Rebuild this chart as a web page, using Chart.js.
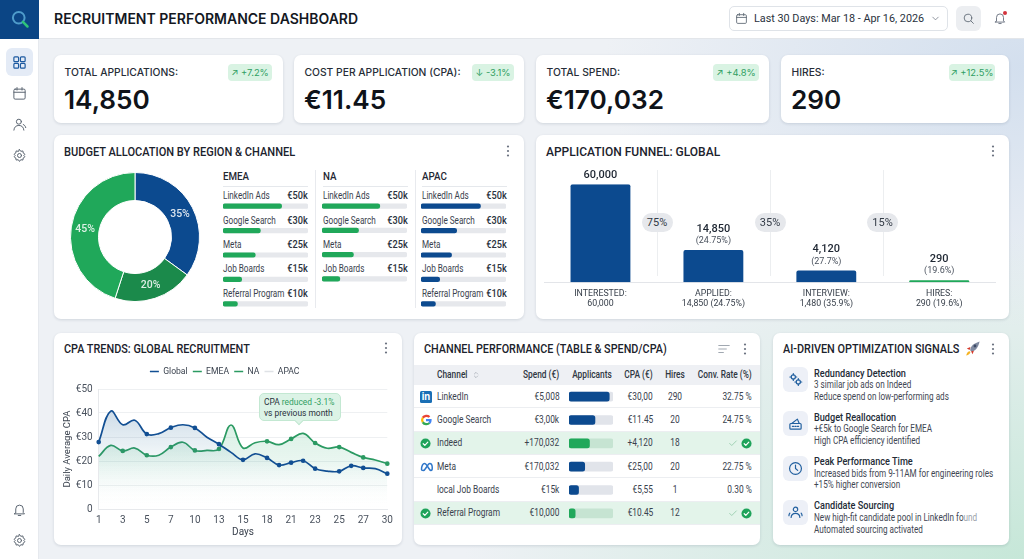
<!DOCTYPE html>
<html>
<head>
<meta charset="utf-8">
<title>Recruitment Performance Dashboard</title>
<script src="https://cdn.jsdelivr.net/npm/chart.js@4"></script>
<style>
* { box-sizing: border-box; }
html, body { margin: 0; width: 1024px; height: 559px; overflow: hidden; }
body {
    position: relative;
    font-family: Inter, "Noto Sans", sans-serif;
    color: #1f2733;
    background:
        radial-gradient(ellipse 560px 330px at 100% 100%, #c6e7d8 0, rgba(198,231,216,0) 100%),
        radial-gradient(ellipse 420px 260px at 100% 12%, #d3dfee 0, rgba(211,223,238,0) 100%),
        #eef1f5;
}
.abs, canvas { position: absolute; }
.t { position: absolute; white-space: nowrap; line-height: 1; transform: translateY(-50%) scaleX(var(--sx, 1)); transform-origin: left center; }
.tr { transform-origin: right center; }
.tc { transform: translate(-50%, -50%) scaleX(var(--sx, 1)); transform-origin: center; }
.card { position: absolute; background: #fff; border-radius: 7px; box-shadow: 0 1px 3px rgba(30,50,80,.14); }
.title { font-family: Roboto, sans-serif; font-size: 12px; font-weight: 500; color: #1b222c; }
.side { left: 0; top: 0; width: 39px; height: 559px; background: #fff; border-right: 1px solid #e6e9ee; }
.head { left: 39px; top: 0; width: 985px; height: 39px; background: #fff; border-bottom: 1px solid #e3e6ea; }
.badge { position: absolute; background: #d9f3e3; color: #2f9e62; border-radius: 4px; font-size: 9.4px; text-align: center; height: 17px; line-height: 17px; white-space: nowrap; }
.pill { position: absolute; width: 31px; height: 19px; border-radius: 10px; background: #e6e8ec; font-family: Roboto, sans-serif; font-size: 11px; line-height: 19px; text-align: center; color: #333b46; }
.row { font-family: Roboto, sans-serif; font-size: 10.2px; color: #3a424e; --sx: .82; }
.small { font-family: Roboto, sans-serif; font-size: 10.2px; color: #3a424e; --sx: .8; }
</style>
</head>
<body>
<div class="abs side"></div>
<div class="abs head"></div>
<div class="abs" style="left:0;top:0;width:39px;height:39px;background:#0b4585"></div>
<div id="ui"></div>
<canvas id="donutChart" width="140" height="140" style="left:65px;top:167px"></canvas>
<canvas id="emeaBars" width="85" height="122" style="left:223px;top:194px"></canvas>
<canvas id="naBars" width="85" height="97" style="left:322px;top:194px"></canvas>
<canvas id="apacBars" width="85" height="122" style="left:421px;top:194px"></canvas>
<canvas id="funnelChart" width="473" height="151" style="left:536px;top:165px"></canvas>
<canvas id="cpaChart" width="348" height="185" style="left:54px;top:360px"></canvas>
<canvas id="applicantBars" width="44" height="140" style="left:569px;top:385px"></canvas>
<div id="overlay"></div>

<script>
// KPI row
const kpiLabels = ['TOTAL APPLICATIONS:', 'COST PER APPLICATION (CPA):', 'TOTAL SPEND:', 'HIRES:'];
const kpiValues = ['14,850', '€11.45', '€170,032', '290'];
const kpiDeltas = ['↗ +7.2%', '↓ -3.1%', '↗ +4.8%', '↗ +12.5%'];

// Budget donut
const budgetLabels = ['NA', 'APAC', 'EMEA'];
const budgetShares = [35, 20, 45];

const regionChannels = ['LinkedIn Ads', 'Google Search', 'Meta', 'Job Boards', 'Referral Program'];
const regionAmounts = ['€50k', '€30k', '€25k', '€15k', '€10k'];
const emeaLengths = [69, 44, 38, 22, 17];
const naLengths = [68, 43, 37, 21];
const apacLengths = [70, 42, 36, 22, 17];

// Funnel: drawn bar heights are not proportional to the printed numbers, so both are kept
const funnelStages = [['INTERESTED:', '60,000'], ['APPLIED:', '14,850 (24.75%)'], ['INTERVIEW:', '1,480 (35.9%)'], ['HIRES:', '290 (19.6%)']];
const funnelHeights = [60000, 19800, 7300, 1300];
const funnelValueLabels = ['60,000', '14,850', '4,120', '290'];
const funnelPctLabels = ['', '(24.75%)', '(27.7%)', '(19.6%)'];
const funnelRates = ['75%', '35%', '15%'];

// CPA trends: x axis labels every second position
const cpaDays = ['1', '2', '3', '4', '5', '6', '7', '8', '10', '12', '13', '14', '15', '17', '18', '20', '21', '22', '23', '24', '25', '26', '27', '28', '30'];
const globalCpa = [27.9, 40.8, 35.1, 37, 31.2, 31.4, 33.9, 35.1, 33.8, 29.9, 27, 23.6, 20.5, 23, 21.3, 18.3, 19.3, 20.1, 16.8, 15.8, 15.7, 18, 17.1, 16.8, 14.7];
const emeaCpa = [21.9, 26.5, 24.2, 25.4, 22.4, 22.4, 25.8, 27.8, 24.4, 24.4, 25, 35, 25.4, 27.6, 28.2, 26.8, 29.2, 31.5, 27.5, 25.3, 25.8, 23.6, 21.5, 20.4, 18.9];
const naCpa = [];
const apacCpa = [];
const cpaTicks = [0, 10, 20, 30, 40, 50];

// Channel table
const channelNames = ['LinkedIn', 'Google Search', 'Indeed', 'Meta', 'local Job Boards', 'Referral Program'];
const channelSpend = ['€5,008', '€3,00k', '+170,032', '€170,032', '€15k', '€10,000'];
const channelApplicants = [91.5, 59, 46.5, 35.7, 21.7, 14];
const channelCpa = ['€30,00', '€11.45', '+4,120', '€25,00', '€5,55', '€10.45'];
const channelHires = ['290', '20', '18', '20', '1', '12'];
const channelConv = ['32.75 %', '24.75 %', '', '22.75 %', '0.30 %', ''];
const highlightedRows = [2, 5];

// AI signals
const signalTitles = ['Redundancy Detection', 'Budget Reallocation', 'Peak Performance Time', 'Candidate Sourcing'];
const signalLine1 = ['3 similar job ads on Indeed', '+€5k to Google Search for EMEA', 'Increased bids from 9-11AM for engineering roles', 'New high-fit candidate pool in LinkedIn fo<span style="color:#9aa1ab">und</span>'];
const signalLine2 = ['Reduce spend on low-performing ads', 'High CPA efficiency identified', '+15% higher conversion', 'Automated sourcing activated'];

const BLUE = '#0c4a8f';
const GREEN = '#20a85a';
const DARK_GREEN = '#1b8a4b';
const LINE_GREEN = '#2b9a62';

Chart.defaults.font.family = 'Roboto, sans-serif';
Chart.defaults.animation = false;
Chart.defaults.responsive = false;

const svg = (x, y, size, body, stroke = '#4f5a68', sw = 1.6) =>
    `<svg class="abs" style="left:${x}px;top:${y}px" width="${size}" height="${size}" viewBox="0 0 24 24" fill="none" stroke="${stroke}" stroke-width="${sw}" stroke-linecap="round" stroke-linejoin="round">${body}</svg>`;

const ICON = {
    grid: '<rect x="3" y="3" width="7.5" height="7.5" rx="1.5"/><rect x="13.5" y="3" width="7.5" height="7.5" rx="1.5"/><rect x="3" y="13.5" width="7.5" height="7.5" rx="1.5"/><rect x="13.5" y="13.5" width="7.5" height="7.5" rx="1.5"/>',
    calendar: '<rect x="3" y="5" width="18" height="16" rx="2"/><path d="M3 10h18M8 2.5v4M16 2.5v4"/>',
    user: '<circle cx="11" cy="7.5" r="4"/><path d="M3 21c.5-5 3.5-7.5 8-7.5s7.5 2.5 8 7.5"/><path d="M18 12c2 .8 3.5 2.5 4 5"/>',
    gear: '<circle cx="12" cy="12" r="3.2"/><path d="M12 2.5l2 2.8 3.4-.6.6 3.4 2.8 2-1.9 1.9 1.9 1.9-2.8 2-.6 3.4-3.4-.6-2 2.8-2-2.8-3.4.6-.6-3.4-2.8-2 1.9-1.9-1.9-1.9 2.8-2 .6-3.4 3.4.6z"/>',
    bell: '<path d="M6 17V11a6 6 0 0 1 12 0v6l2 2H4z"/><path d="M10 21.5h4"/>',
    search: '<circle cx="11" cy="11" r="7"/><path d="M16.5 16.5L21 21"/>',
    chevron: '<path d="M6 9l6 6 6-6"/>',
    clock: '<circle cx="12" cy="12" r="9.5"/><path d="M12 6.5V12l3.5 3"/>',
    people: '<circle cx="12" cy="7" r="3.5"/><path d="M5 20c.3-4.5 3-6.5 7-6.5s6.7 2 7 6.5"/><path d="M3 13c-1 1-1.5 2.5-1.5 4M21 13c1 1 1.5 2.5 1.5 4"/>',
    register: '<rect x="3" y="12" width="18" height="9" rx="1.5"/><path d="M6 12l9-7 3 7M7 16.5h2M11 16.5h2M15 16.5h2"/>',
    sort: '<path d="M3 6h18M3 12h13M3 18h8"/>'
};

const dots = (x, y) => `<svg class="abs" style="left:${x - 2}px;top:${y - 6}px" width="4" height="12" fill="#6b7280"><circle cx="2" cy="1.5" r="1.1"/><circle cx="2" cy="6" r="1.1"/><circle cx="2" cy="10.5" r="1.1"/></svg>`;
const text = (x, y, str, style = '', cls = '') => `<div class="t ${cls}" style="left:${x}px;top:${y}px;${style}">${str}</div>`;
const textRight = (x, y, str, style = '', cls = '') => `<div class="t tr ${cls}" style="right:${1024 - x}px;top:${y}px;${style}">${str}</div>`;
const textCenter = (x, y, str, style = '', cls = '') => `<div class="t tc ${cls}" style="left:${x}px;top:${y}px;${style}">${str}</div>`;
const check = (x, y, size) => svg(x, y, size, '<circle cx="12" cy="12" r="11" fill="#1ea35a" stroke="none"/><path d="M7 12.5l3.5 3.5L17 9" stroke="#fff" stroke-width="2.6"/>');

function buildChrome() {
    let html = '';
    html += svg(10, 9, 20, '<circle cx="10.5" cy="10.5" r="7" stroke="#4f9ccb" stroke-width="2.4"/><path d="M15.5 15.5L21 21" stroke="#2fc37a" stroke-width="3"/>');
    html += '<div class="abs" style="left:6px;top:48px;width:27px;height:28px;background:#e4ebf6;border-radius:6px"></div>';
    html += svg(12, 55, 15, ICON.grid, '#1d5aa0', 1.9);
    html += svg(12, 86, 15, ICON.calendar, '#5d6773');
    html += svg(12, 117, 15, ICON.user, '#5d6773');
    html += svg(12, 148, 15, ICON.gear, '#5d6773');
    html += svg(12, 502, 15, ICON.bell, '#5d6773');
    html += svg(12, 533, 15, ICON.gear, '#5d6773');
    html += text(54, 19, 'RECRUITMENT PERFORMANCE DASHBOARD', 'font-size:14px;font-weight:600;color:#14181f');
    html += '<div class="abs" style="left:729px;top:6px;width:219px;height:25px;background:#fff;border:1px solid #dfe3e8;border-radius:5px"></div>';
    html += svg(735, 12, 13, ICON.calendar, '#5d6773');
    html += text(754, 18.5, 'Last 30 Days: Mar 18 - Apr 16, 2026', 'font-family:Roboto;font-size:11.5px;color:#2a323d;--sx:.94');
    html += svg(930, 13, 11, ICON.chevron, '#6b7280');
    html += '<div class="abs" style="left:956px;top:6px;width:25px;height:25px;background:#eceef1;border-radius:6px"></div>';
    html += svg(962, 12, 13, ICON.search, '#5d6773');
    html += svg(993, 11, 14, ICON.bell, '#6b7280');
    html += '<div class="abs" style="left:1002.5px;top:10.5px;width:4.5px;height:4.5px;background:#d3343e;border-radius:50%"></div>';
    return html;
}

function buildKpis() {
    const cardX = [54, 294, 536, 781];
    const cardW = [229, 230, 233, 228];
    const badgeX = [228, 472, 713, 949];
    const badgeW = [44, 42, 46, 46];
    let html = '';
    kpiLabels.forEach((label, i) => {
        html += `<div class="card" style="left:${cardX[i]}px;top:55px;width:${cardW[i]}px;height:68px"></div>`;
        html += text(cardX[i] + 10.5, 72, label, 'font-size:10.3px;font-weight:500;color:#262d37');
        html += `<div class="badge" style="left:${badgeX[i]}px;top:64px;width:${badgeW[i]}px">${kpiDeltas[i]}</div>`;
        html += text(cardX[i] + 10, 99.5, kpiValues[i], 'font-size:26.2px;font-weight:600;color:#0f1319');
    });
    return html;
}

function buildBudgetCard() {
    let html = '<div class="card" style="left:54px;top:135px;width:470px;height:184px"></div>';
    html += text(64, 151.5, 'BUDGET ALLOCATION BY REGION &amp; CHANNEL', '--sx:.92', 'title');
    html += dots(508, 151);
    [['EMEA', 223, emeaLengths], ['NA', 322.5, naLengths], ['APAC', 421.5, apacLengths]].forEach(([name, x, lengths]) => {
        html += text(x, 176.5, name, 'font-family:Roboto;font-size:11.5px;font-weight:500;--sx:.85');
        html += `<div class="abs" style="left:${x}px;top:186px;width:85px;height:1px;background:#e5e8ec"></div>`;
        lengths.forEach((_, i) => {
            const y = 196.3 + i * 24.3;
            html += text(x, y, regionChannels[i], '', 'small');
            html += textRight(x + 85, y, regionAmounts[i], 'font-weight:500;color:#2a323d;--sx:.9', 'small');
        });
    });
    [315, 414.5].forEach((x) => {
        html += `<div class="abs" style="left:${x}px;top:170px;width:1px;height:138px;background:#e8eaee"></div>`;
    });
    return html;
}

function buildFunnelCard() {
    let html = '<div class="card" style="left:536px;top:135px;width:473px;height:184px"></div>';
    html += text(546, 151.5, 'APPLICATION FUNNEL: GLOBAL', '', 'title');
    html += dots(993, 151);
    [657, 770, 882.5].forEach((x) => {
        html += `<div class="abs" style="left:${x}px;top:170px;width:1px;height:106px;background:#eceef0"></div>`;
    });
    return html;
}

function buildFunnelPills() {
    return funnelRates.map((rate, i) => {
        const x = [657, 770, 882.5][i];
        return `<div class="pill" style="left:${x - 15.5}px;top:213px">${rate}</div>`;
    }).join('');
}

function buildCpaCard() {
    let html = '<div class="card" style="left:54px;top:333px;width:348px;height:212px"></div>';
    html += text(64, 349, 'CPA TRENDS: GLOBAL RECRUITMENT', '--sx:.905', 'title');
    html += dots(386, 348);
    return html;
}

function buildCallout() {
    const s = 'font-family:Roboto;font-size:9.8px;color:#2a323d;--sx:.86';
    let html = '<div class="abs" style="left:258.5px;top:393px;width:82px;height:28px;background:#dcf3e6;border:1px solid #c3e8d2;border-radius:5px"></div>';
    html += '<div class="abs" style="left:296px;top:417.5px;width:6px;height:6px;background:#dcf3e6;border-right:1px solid #c3e8d2;border-bottom:1px solid #c3e8d2;transform:rotate(45deg)"></div>';
    html += text(263.5, 402, 'CPA <span style="color:#2f9e62">reduced -3.1%</span>', s);
    html += text(263.5, 412.8, 'vs previous month', s);
    return html;
}

function channelIcon(i, y) {
    const x = 420;
    if (i === 0) {
        return `<div class="abs" style="left:${x}px;top:${y - 6}px;width:12px;height:12px;background:#1a6fb5;border-radius:1.5px;color:#fff;font-size:9.5px;font-weight:700;line-height:12px;text-align:center">in</div>`;
    }
    if (i === 1) {
        return `<svg class="abs" style="left:${x}px;top:${y - 6}px" width="12" height="12" viewBox="0 0 24 24" fill="none" stroke-width="4.5"><path d="M5.5 7.5A9 9 0 0 1 19 6" stroke="#ea4335"/><path d="M5.5 7.5a9 9 0 0 0 0 9" stroke="#fbbc05"/><path d="M5.5 16.5A9 9 0 0 0 19 18" stroke="#34a853"/><path d="M19 18A9 9 0 0 0 21 12H12" stroke="#4285f4"/></svg>`;
    }
    if (i === 3) {
        return `<svg class="abs" style="left:${x - 0.5}px;top:${y - 5}px" width="13" height="10" viewBox="0 0 26 20" fill="none" stroke="#2f76c9" stroke-width="3"><path d="M3 15c0-7 3-12 6-12s5 4 8 9 3.5 5 5 5 2.5-2 2.5-5c0-6-3-9-5-9s-4 3-7 8-4 6-6 6-3.5-.5-3.5-2z"/></svg>`;
    }
    if (highlightedRows.includes(i)) {
        return check(x, y - 5.5, 11);
    }
    return '';
}

function buildChannelCard() {
    let html = '<div class="card" style="left:414px;top:333px;width:346px;height:212px"></div>';
    html += text(424, 349, 'CHANNEL PERFORMANCE (TABLE &amp; SPEND/CPA)', '--sx:.9', 'title');
    html += svg(717, 342, 14, ICON.sort, '#9aa1ab');
    html += dots(745, 349);
    html += '<div class="abs" style="left:414px;top:365px;width:346px;height:20px;background:#eef0f4"></div>';
    const hs = 'font-weight:500;color:#2f3742';
    html += text(437, 375, 'Channel', hs, 'row');
    html += svg(472, 371, 8, '<path d="M7 9l5-5 5 5M7 15l5 5 5-5"/>', '#8a919c');
    html += textRight(559.5, 375, 'Spend (€)', hs, 'row');
    html += textCenter(592, 375, 'Applicants', hs, 'row');
    html += textRight(653, 375, 'CPA (€)', hs, 'row');
    html += textCenter(674.5, 375, 'Hires', hs, 'row');
    html += textRight(751.5, 375, 'Conv. Rate (%)', hs, 'row');
    const rowH = 23.33;
    channelNames.forEach((name, i) => {
        const top = 385 + i * rowH;
        const y = top + rowH / 2;
        const hl = highlightedRows.includes(i);
        html += `<div class="abs" style="left:414px;top:${top}px;width:346px;height:${rowH}px;background:${hl ? '#e3f4ea' : '#fff'};border-bottom:1px solid #eceef1"></div>`;
        html += channelIcon(i, y);
        html += text(437, y, name, '', 'row');
        html += textRight(559.5, y, channelSpend[i], '', 'row');
        html += textRight(653, y, channelCpa[i], '', 'row');
        html += textCenter(674.5, y, channelHires[i], '', 'row');
        if (channelConv[i]) {
            html += textRight(751.5, y, channelConv[i], '', 'row');
        } else {
            html += svg(728, y - 5, 10, '<path d="M4 13l5 5L20 7"/>', '#7fbf98');
            html += check(741, y - 5.5, 11);
        }
    });
    return html;
}

function buildSignalCard() {
    const icons = [
        `<circle cx="8.5" cy="8" r="3.3"/><circle cx="16.5" cy="16" r="3.3"/><path d="M8.5 2.5v2M8.5 11.5v2M3 8h2M12 8h2M16.5 10.5v2M16.5 19.5v2M11 16h2M20 16h2"/>`,
        ICON.register, ICON.clock, ICON.people
    ];
    let html = '<div class="card" style="left:773px;top:333px;width:236px;height:212px"></div>';
    html += text(783, 349, 'AI-DRIVEN OPTIMIZATION SIGNALS', '--sx:.905', 'title');
    html += `<svg class="abs" style="left:964px;top:340px" width="17" height="17" viewBox="0 0 24 24"><path d="M9 15c-1-4 3-10 13-13-2 10-8 15-12 14z" fill="#7f8aa0"/><circle cx="15.5" cy="8.5" r="2" fill="#3c4a66"/><path d="M9 10l-5 2 4 2zM14 15l-2 5-2-4z" fill="#d5392b"/><path d="M8 16c-2 0-4 2-5 6 4-1 6-3 6-5z" fill="#f5b324"/></svg>`;
    html += dots(993, 349);
    signalTitles.forEach((title, i) => {
        const top = 367 + i * 44.3;
        html += `<div class="abs" style="left:783px;top:${top}px;width:25px;height:25px;background:#edf0f7;border-radius:6px"></div>`;
        html += svg(788, top + 5, 15, icons[i], '#22609f', 1.9);
        html += text(813.5, top + 6.5, title, 'font-family:Roboto;font-size:10.4px;font-weight:500;color:#232b36;--sx:.88');
        html += text(813.5, top + 18, signalLine1[i], 'color:#3f4753', 'small');
        html += text(813.5, top + 29.7, signalLine2[i], 'color:#3f4753', 'small');
    });
    return html;
}

// labels inside the donut slices
const sliceLabelPlugin = {
    id: 'sliceLabels',
    afterDatasetsDraw(chart) {
        const ctx = chart.ctx;
        ctx.save();
        ctx.font = '500 10.5px Roboto';
        ctx.fillStyle = 'rgba(255,255,255,.85)';
        ctx.textAlign = 'center';
        ctx.textBaseline = 'middle';
        chart.getDatasetMeta(0).data.forEach((arc, i) => {
            const pos = arc.tooltipPosition();
            ctx.fillText(budgetShares[i] + '%', pos.x, pos.y);
        });
        ctx.restore();
    }
};

// numbers above the funnel bars
const funnelLabelPlugin = {
    id: 'funnelLabels',
    afterDatasetsDraw(chart) {
        const ctx = chart.ctx;
        ctx.save();
        ctx.textAlign = 'center';
        ctx.textBaseline = 'middle';
        chart.getDatasetMeta(0).data.forEach((bar, i) => {
            const hasPct = funnelPctLabels[i] !== '';
            ctx.font = '500 11px Roboto';
            ctx.fillStyle = '#1f2733';
            ctx.fillText(funnelValueLabels[i], bar.x, bar.y - (hasPct ? 21 : 9));
            if (hasPct) {
                ctx.font = '9px Roboto';
                ctx.fillStyle = '#4a525e';
                ctx.fillText(funnelPctLabels[i], bar.x, bar.y - 9);
            }
        });
        ctx.restore();
    }
};

// fixes the legend's height so the plot area sits where it should
const legendHeightPlugin = {
    id: 'legendHeight',
    beforeLayout(chart) {
        const legend = chart.legend;
        const fit = legend.fit;
        legend.fit = function () {
            fit.call(this);
            this.height = 27;
        };
    }
};

function initDonut() {
    new Chart(document.getElementById('donutChart'), {
        type: 'doughnut',
        data: {
            labels: budgetLabels,
            datasets: [{
                data: budgetShares,
                backgroundColor: [BLUE, DARK_GREEN, GREEN],
                borderColor: '#fff',
                borderWidth: 1
            }]
        },
        options: {
            radius: 64.5,
            cutout: '56.6%',
            plugins: { legend: { display: false }, tooltip: { enabled: false } }
        },
        plugins: [sliceLabelPlugin]
    });
}

// horizontal track + fill bars, one row per category
function initRowBars(canvasId, labels, lengths, fillColors, trackColors, thickness) {
    new Chart(document.getElementById(canvasId), {
        type: 'bar',
        data: {
            labels: labels,
            datasets: [
                { data: lengths, backgroundColor: fillColors, order: 1 },
                { data: lengths.map(() => 100), backgroundColor: trackColors, order: 2 }
            ]
        },
        options: {
            indexAxis: 'y',
            datasets: { bar: { grouped: false, barThickness: thickness, borderRadius: 2.5, borderSkipped: false } },
            scales: {
                x: { display: false, min: 0, max: 100 },
                y: { display: false }
            },
            plugins: { legend: { display: false }, tooltip: { enabled: false } }
        }
    });
}

function initFunnel() {
    new Chart(document.getElementById('funnelChart'), {
        type: 'bar',
        data: {
            labels: funnelStages,
            datasets: [{
                data: funnelHeights,
                backgroundColor: [BLUE, BLUE, BLUE, GREEN],
                borderRadius: { topLeft: 2, topRight: 2 },
                borderSkipped: 'bottom',
                categoryPercentage: 1,
                barPercentage: 0.53
            }]
        },
        options: {
            layout: { padding: { left: 8, right: 13.3, top: 19.3 } },
            scales: {
                x: {
                    grid: { display: false, drawTicks: false },
                    border: { color: '#e3e5e9' },
                    ticks: { color: '#363e49', font: { size: 8.8 }, padding: 6, maxRotation: 0, autoSkip: false },
                    afterFit(scale) { scale.height = 33.7; }
                },
                y: { display: false, min: 0, max: 60000 }
            },
            plugins: { legend: { display: false }, tooltip: { enabled: false } }
        },
        plugins: [funnelLabelPlugin]
    });
}

function areaGradient(chart, topColor, midColor) {
    const area = chart.chartArea;
    if (!area) {
        return topColor;
    }
    const gradient = chart.ctx.createLinearGradient(0, area.top, 0, area.bottom);
    gradient.addColorStop(0, topColor);
    gradient.addColorStop(0.6, midColor);
    gradient.addColorStop(1, 'rgba(255,255,255,0)');
    return gradient;
}

// only some points carry a dot in the reference
const globalDots = [0, 4, 6, 8, 10, 12, 14, 15, 16, 17, 18, 20, 21, 22, 24];
const emeaDots = [2, 4, 6, 8, 10, 14, 16, 18, 20, 22, 24];

function initCpaChart() {
    new Chart(document.getElementById('cpaChart'), {
        type: 'line',
        data: {
            labels: cpaDays,
            datasets: [
                {
                    label: 'Global',
                    data: globalCpa,
                    borderColor: '#124f93',
                    borderWidth: 1.7,
                    tension: 0.4,
                    fill: 'origin',
                    backgroundColor: (c) => areaGradient(c.chart, 'rgba(24,80,150,.3)', 'rgba(60,130,160,.05)'),
                    pointBackgroundColor: '#124f93',
                    pointBorderColor: '#124f93',
                    pointBorderWidth: 1.7,
                    pointRadius: (c) => globalDots.includes(c.dataIndex) ? 1.5 : 0,
                    clip: false
                },
                {
                    label: 'EMEA',
                    data: emeaCpa,
                    borderColor: LINE_GREEN,
                    borderWidth: 1.7,
                    tension: 0.4,
                    fill: 'origin',
                    backgroundColor: (c) => areaGradient(c.chart, 'rgba(40,170,100,.24)', 'rgba(40,170,110,.10)'),
                    pointBackgroundColor: LINE_GREEN,
                    pointBorderColor: LINE_GREEN,
                    pointBorderWidth: 1.7,
                    pointRadius: (c) => emeaDots.includes(c.dataIndex) ? 1.5 : 0,
                    clip: false
                },
                { label: 'NA', data: naCpa, borderColor: LINE_GREEN, backgroundColor: LINE_GREEN, pointBorderColor: LINE_GREEN, pointBorderWidth: 1.7 },
                { label: 'APAC', data: apacCpa, borderColor: '#dfe2e6', backgroundColor: '#dfe2e6', pointBorderColor: '#dfe2e6', pointBorderWidth: 1.7 }
            ]
        },
        options: {
            layout: { padding: { left: 8, right: 14.7, top: 2, bottom: 0 } },
            scales: {
                x: {
                    offset: false,
                    grid: { display: false, drawTicks: false },
                    border: { color: '#e7e9ec' },
                    ticks: {
                        color: '#4a525e',
                        font: { size: 10 },
                        autoSkip: false,
                        maxRotation: 0,
                        padding: 5,
                        callback(value, index) {
                            return index % 2 === 0 ? cpaDays[index] : '';
                        }
                    },
                    title: { display: true, text: 'Days', color: '#3a424e', font: { size: 10 }, padding: { top: 2, bottom: 7 } },
                    afterFit(scale) { scale.height = 36; }
                },
                y: {
                    min: 0,
                    max: 50,
                    grid: { color: '#eef0f2', drawTicks: false },
                    border: { color: '#e7e9ec' },
                    afterBuildTicks(scale) {
                        scale.ticks = cpaTicks.map((value) => ({ value }));
                    },
                    ticks: {
                        color: '#4a525e',
                        font: { size: 10 },
                        padding: 6,
                        callback(value) {
                            return value === 0 ? '0' : '€' + value;
                        }
                    },
                    title: { display: true, text: 'Daily Average CPA', color: '#3a424e', font: { size: 9.5 }, padding: 0 },
                    afterFit(scale) { scale.width = 36.7; }
                }
            },
            plugins: {
                tooltip: { enabled: false },
                legend: {
                    position: 'top',
                    align: 'center',
                    labels: {
                        usePointStyle: true,
                        pointStyle: 'line',
                        pointStyleWidth: 9,
                        color: '#3a424e',
                        font: { size: 8.6 },
                        padding: 5.2,
                        boxHeight: 8
                    }
                }
            }
        },
        plugins: [legendHeightPlugin]
    });
}

document.getElementById('ui').innerHTML = buildChrome() + buildKpis() + buildBudgetCard()
    + buildFunnelCard() + buildCpaCard() + buildChannelCard() + buildSignalCard();
document.getElementById('overlay').innerHTML = buildFunnelPills() + buildCallout();

initDonut();
initRowBars('emeaBars', regionChannels, emeaLengths, GREEN, '#e6e8ec', 4.5);
initRowBars('naBars', regionChannels.slice(0, 4), naLengths, GREEN, '#e6e8ec', 4.5);
initRowBars('apacBars', regionChannels, apacLengths, BLUE, '#e6e8ec', 4.5);
initFunnel();
initCpaChart();
initRowBars('applicantBars', channelNames, channelApplicants,
    channelNames.map((_, i) => highlightedRows.includes(i) ? GREEN : BLUE),
    channelNames.map((_, i) => highlightedRows.includes(i) ? '#c6e4d2' : '#e1e4ea'), 9);
</script>
</body>
</html>
